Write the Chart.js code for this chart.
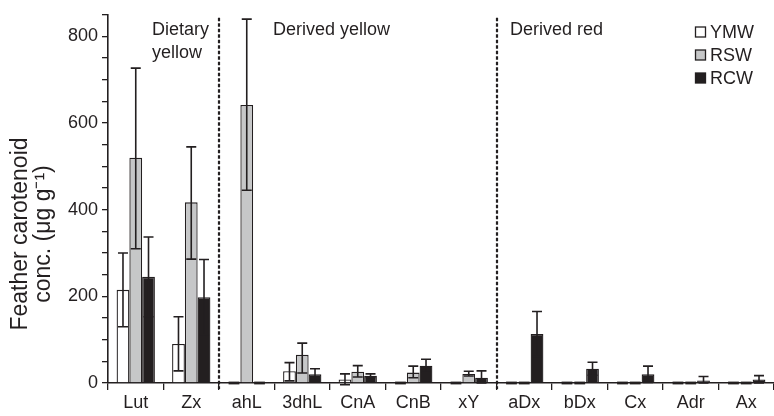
<!DOCTYPE html>
<html>
<head>
<meta charset="utf-8">
<script src="https://cdn.jsdelivr.net/npm/chart.js@4.4.0/dist/chart.umd.min.js"></script>
<style>
  html, body { margin: 0; padding: 0; background: #fff; }
  #wrap { width: 774px; height: 416px; }
</style>
</head>
<body>
<div id="wrap"><canvas id="carotChart" width="774" height="416"></canvas></div>
<script>
// Datos
const categories = ['Lut', 'Zx', 'ahL', '3dhL', 'CnA', 'CnB', 'xY', 'aDx', 'bDx', 'Cx', 'Adr', 'Ax'];

const ymw     = [215,  90,   0, 27,  8,  0,  0,   0,  0,  0,  0,  0];
const ymwLow  = [130,  28,   0,  5, -4,  0,  0,   0,  0,  0,  0,  0];
const ymwHigh = [300, 153,   0, 47, 21,  0,  0,   0,  0,  0,  0,  0];

const rsw     = [520, 417, 642, 65, 26, 24, 21,   0,  0,  0,  0,  0];
const rswLow  = [310, 286, 445, 23, 14, 12, 16,   0,  0,  0,  0,  0];
const rswHigh = [727, 545, 840, 92, 40, 39, 27,   0,  0,  0,  0,  0];

const rcw     = [245, 198,   0, 20, 17, 40, 12, 113, 33, 20,  6,  8];
const rcwLow  = [153, 111,   0,  7, 13, 25,  0,  61, 18,  1,  0,  0];
const rcwHigh = [337, 285,   0, 33, 21, 55, 28, 165, 48, 39, 15, 17];

const groupLabels = [
    { lines: ['Dietary', 'yellow'], x: 152 },
    { lines: ['Derived yellow'], x: 273 },
    { lines: ['Derived red'], x: 510 }
];
const dividerAfter = [1, 6];   // líneas punteadas después de estas categorías
const yTitle = ['Feather carotenoid', 'conc. (\u03bcg g\u207b\u00b9)'];

const FONT = '"Liberation Sans", Arial, Helvetica, sans-serif';

// Plugin: barras de error, guiones en cero, divisores, textos y leyenda
const extras = {
    id: 'extras',
    afterDatasetsDraw(chart) {
        const ctx = chart.ctx;
        const y = chart.scales.y;
        const x = chart.scales.x;
        const area = chart.chartArea;
        const lows = [ymwLow, rswLow, rcwLow];
        const highs = [ymwHigh, rswHigh, rcwHigh];

        ctx.save();
        chart.data.datasets.forEach((ds, di) => {
            const meta = chart.getDatasetMeta(di);
            meta.data.forEach((bar, i) => {
                const v = ds.data[i];
                if (v === 0) {
                    // guion sobre la línea base
                    ctx.strokeStyle = '#231f20';
                    ctx.lineWidth = 2.8;
                    ctx.beginPath();
                    ctx.moveTo(bar.x - bar.width / 2 + 1, y.getPixelForValue(0));
                    ctx.lineTo(bar.x + bar.width / 2 - 1, y.getPixelForValue(0));
                    ctx.stroke();
                    return;
                }
                const lo = y.getPixelForValue(lows[di][i]);
                const hi = y.getPixelForValue(highs[di][i]);
                const cap = 5;
                ctx.strokeStyle = '#231f20';
                ctx.lineWidth = 1.6;
                ctx.beginPath();
                ctx.moveTo(bar.x, lo);
                ctx.lineTo(bar.x, hi);
                ctx.moveTo(bar.x - cap, hi);
                ctx.lineTo(bar.x + cap, hi);
                ctx.moveTo(bar.x - cap, lo);
                ctx.lineTo(bar.x + cap, lo);
                ctx.stroke();
            });
        });

        // divisores punteados
        const step = (x.getPixelForValue(1) - x.getPixelForValue(0));
        ctx.strokeStyle = '#231f20';
        ctx.lineWidth = 2.2;
        ctx.setLineDash([3.5, 2]);
        dividerAfter.forEach(idx => {
            const px = Math.round(x.getPixelForValue(idx) + step / 2);
            ctx.beginPath();
            ctx.moveTo(px, area.top + 3);
            ctx.lineTo(px, area.bottom + 6);
            ctx.stroke();
        });
        ctx.setLineDash([]);

        // textos de grupo
        ctx.fillStyle = '#231f20';
        ctx.font = '18px ' + FONT;
        ctx.textBaseline = 'middle';
        ctx.textAlign = 'left';
        groupLabels.forEach(g => {
            g.lines.forEach((t, k) => ctx.fillText(t, g.x, 30 + k * 23));
        });

        // leyenda
        chart.data.datasets.forEach((ds, di) => {
            const cy = 32 + di * 23;
            ctx.fillStyle = ds.backgroundColor;
            ctx.fillRect(695.5, cy - 5, 10, 10);
            ctx.strokeStyle = '#231f20';
            ctx.lineWidth = 1.3;
            ctx.strokeRect(695.5, cy - 5, 10, 10);
            ctx.fillStyle = '#231f20';
            ctx.fillText(ds.label, 710, cy + 1);
        });

        // título del eje y
        ctx.font = '23px ' + FONT;
        ctx.textAlign = 'center';
        yTitle.forEach((t, k) => {
            ctx.save();
            ctx.translate(21 + k * 23, 234);
            ctx.rotate(-Math.PI / 2);
            ctx.fillText(t, 0, 0);
            ctx.restore();
        });
        ctx.restore();
    }
};

const ctx = document.getElementById('carotChart').getContext('2d');
const chart = new Chart(ctx, {
    type: 'bar',
    data: {
        labels: categories,
        datasets: [
            { label: 'YMW', data: ymw, backgroundColor: '#ffffff', borderColor: '#231f20', borderWidth: 1.3 },
            { label: 'RSW', data: rsw, backgroundColor: '#c6c7c8', borderColor: '#231f20', borderWidth: 1.3 },
            { label: 'RCW', data: rcw, backgroundColor: '#231f20', borderColor: '#231f20', borderWidth: 1.3 }
        ]
    },
    options: {
        responsive: false,
        animation: false,
        layout: { padding: { top: 11, right: 0, left: 0, bottom: 0 } },
        datasets: {
            bar: { categoryPercentage: 0.69, barPercentage: 1.0 }
        },
        plugins: {
            legend: { display: false },
            tooltip: { enabled: false }
        },
        scales: {
            x: {
                grid: {
                    display: true,
                    offset: true,
                    drawOnChartArea: false,
                    drawTicks: true,
                    tickLength: 7,
                    color: '#231f20',
                    lineWidth: 1.3
                },
                border: { display: true, color: '#231f20', width: 1.6 },
                ticks: {
                    color: '#231f20',
                    font: { family: FONT, size: 18 },
                    padding: 2,
                    maxRotation: 0,
                    autoSkip: false
                },
                afterFit(scale) { scale.height = 33; }
            },
            y: {
                min: 0,
                max: 850,
                grid: {
                    display: true,
                    drawOnChartArea: false,
                    drawTicks: true,
                    tickLength: 6,
                    color: '#231f20',
                    lineWidth: 1.3
                },
                border: { display: true, color: '#231f20', width: 1.6 },
                ticks: {
                    stepSize: 50,
                    autoSkip: false,
                    color: '#231f20',
                    font: { family: FONT, size: 18 },
                    padding: 4,
                    callback: v => (v % 200 === 0 ? v : '')
                },
                afterFit(scale) { scale.width = 108; }
            }
        }
    },
    plugins: [extras]
});
</script>
</body>
</html>
